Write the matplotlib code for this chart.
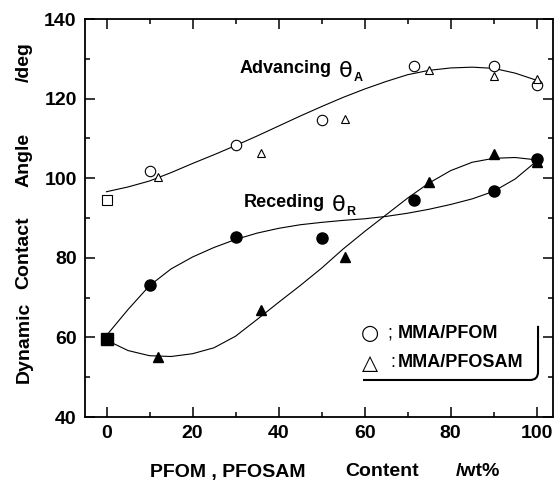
import numpy as np
import matplotlib.pyplot as plt
from matplotlib.path import Path
from matplotlib.patches import PathPatch
from matplotlib.ticker import MultipleLocator

plt.rcParams['font.family'] = ['Liberation Sans', 'DejaVu Sans']
plt.rcParams['font.weight'] = 'bold'

# measured points
pmma_adv = 94.5
pmma_rec = 59.7

pfom_x = [10, 30, 50, 71.5, 90, 100]
pfom_adv = [101.7, 108.3, 114.6, 128.3, 128.3, 123.5]
pfom_rec = [73.2, 85.3, 85.0, 94.5, 96.7, 104.7]

pfosam_x = [12, 36, 55.5, 75, 90, 100]
pfosam_adv = [100.2, 106.3, 114.9, 127.3, 125.6, 124.8]
pfosam_rec = [55.2, 66.8, 80.3, 99.1, 106.0, 104.0]

# hand drawn curves, every 5 wt%
curve_x = [0, 5, 10, 15, 20, 25, 30, 35, 40, 45, 50,
           55, 60, 65, 70, 75, 80, 85, 90, 95, 100]
curve_adv = [96.6, 97.8, 99.3, 101.4, 103.7, 105.9, 108.2, 110.6, 113.1, 115.6, 118.0,
             120.3, 122.4, 124.3, 126.0, 127.1, 127.7, 127.9, 127.6, 126.4, 124.6]
curve_rec_pfom = [60.5, 67.0, 73.0, 77.2, 80.2, 82.6, 84.6, 86.2, 87.4, 88.3, 88.9,
                  89.4, 89.8, 90.4, 91.2, 92.2, 93.4, 94.8, 96.7, 99.8, 104.3]
curve_rec_pfosam = [59.3, 56.7, 55.4, 55.2, 55.9, 57.4, 60.3, 64.5, 68.8, 73.0, 77.4,
                    82.2, 86.6, 90.8, 95.0, 98.8, 101.9, 104.0, 105.0, 105.2, 104.6]

fig = plt.figure(figsize=(5.54, 4.83), dpi=100)
ax = fig.add_axes([85 / 554, 66 / 483, 468 / 554, 398 / 483])

ax.plot(curve_x, curve_adv, color='k', lw=0.8, zorder=2)
ax.plot(curve_x, curve_rec_pfom, color='k', lw=0.8, zorder=2)
ax.plot(curve_x, curve_rec_pfosam, color='k', lw=0.8, zorder=2)

ax.plot(pfom_x, pfom_adv, 'o', ms=7.5, mfc='white', mec='k', mew=0.8, zorder=3)
ax.plot(pfosam_x, pfosam_adv, '^', ms=6, mfc='white', mec='k', mew=0.8, zorder=3)
ax.plot(pfosam_x, pfosam_rec, '^', ms=6.5, mfc='k', mec='k', zorder=3)
ax.plot(pfom_x, pfom_rec, 'o', ms=8, mfc='k', mec='k', zorder=4)
ax.plot([0], [pmma_adv], 's', ms=7.5, mfc='white', mec='k', mew=0.8, zorder=3)
ax.plot([0], [pmma_rec], 's', ms=8, mfc='k', mec='k', zorder=3)

ax.set_xlim(-5, 103.8)
ax.set_ylim(40, 140)
ax.xaxis.set_major_locator(MultipleLocator(20))
ax.xaxis.set_minor_locator(MultipleLocator(10))
ax.yaxis.set_major_locator(MultipleLocator(20))
ax.yaxis.set_minor_locator(MultipleLocator(10))
ax.tick_params(which='both', direction='in', top=True, right=True, width=1.1,
               labelsize=14)
ax.tick_params(which='major', length=7)
ax.tick_params(which='minor', length=3.5)
ax.tick_params(axis='x', pad=6)
ax.tick_params(axis='y', pad=6)
for s in ax.spines.values():
    s.set_linewidth(1.3)

# curve labels
t1 = ax.text(31, 126.5, 'Advancing', fontsize=13, fontweight='bold', va='baseline')
th1 = ax.annotate('θ', xy=(1, 0), xycoords=t1, xytext=(5, 0), textcoords='offset points',
                  fontsize=16, fontweight='normal', family='DejaVu Sans', va='baseline')
ax.annotate('A', xy=(1, 0), xycoords=th1, xytext=(1, 0), textcoords='offset points',
            fontsize=9, fontweight='bold', va='baseline')
t2 = ax.text(31.8, 92.8, 'Receding', fontsize=13, fontweight='bold', va='baseline')
th2 = ax.annotate('θ', xy=(1, 0), xycoords=t2, xytext=(5, 0), textcoords='offset points',
                  fontsize=16, fontweight='normal', family='DejaVu Sans', va='baseline')
ax.annotate('R', xy=(1, 0), xycoords=th2, xytext=(1, 0), textcoords='offset points',
            fontsize=9, fontweight='bold', va='baseline')

# legend, drawn by hand like the original
ax.text(0.609, 0.211, '○', transform=ax.transAxes, fontsize=15, fontweight='normal',
        family='DejaVu Sans', ha='center', va='center')
ax.text(0.647, 0.211, ';', transform=ax.transAxes, fontsize=13, fontweight='normal',
        ha='left', va='center')
ax.text(0.669, 0.211, 'MMA/PFOM', transform=ax.transAxes, fontsize=13, ha='left',
        va='center')
ax.text(0.609, 0.136, '△', transform=ax.transAxes, fontsize=15, fontweight='normal',
        family='DejaVu Sans', ha='center', va='center')
ax.text(0.652, 0.136, ':', transform=ax.transAxes, fontsize=13, fontweight='normal',
        ha='left', va='center')
ax.text(0.669, 0.136, 'MMA/PFOSAM', transform=ax.transAxes, fontsize=13, ha='left',
        va='center')
frame = Path([(0.594, 0.093), (0.951, 0.093), (0.968, 0.093), (0.968, 0.113),
              (0.968, 0.229)],
             [Path.MOVETO, Path.LINETO, Path.CURVE3, Path.CURVE3, Path.LINETO])
ax.add_patch(PathPatch(frame, transform=ax.transAxes, fill=False, lw=1.5,
                       edgecolor='k', clip_on=False))

# axis titles
fs = 14
fig.text(24 / 554, 1 - 342 / 483, 'Dynamic', rotation=90, ha='center', va='center', fontsize=fs)
fig.text(24 / 554, 1 - 253 / 483, 'Contact', rotation=90, ha='center', va='center', fontsize=fs)
fig.text(24 / 554, 1 - 160 / 483, 'Angle', rotation=90, ha='center', va='center', fontsize=fs)
fig.text(24 / 554, 1 - 62 / 483, '/deg', rotation=90, ha='center', va='center', fontsize=fs)

fig.text(150 / 554, 1 - 472 / 483, 'PFOM , PFOSAM', ha='left', va='center', fontsize=fs)
fig.text(345 / 554, 1 - 472 / 483, 'Content', ha='left', va='center', fontsize=fs)
fig.text(456 / 554, 1 - 472 / 483, '/wt%', ha='left', va='center', fontsize=fs)

fig.savefig('out.png', dpi=100)
